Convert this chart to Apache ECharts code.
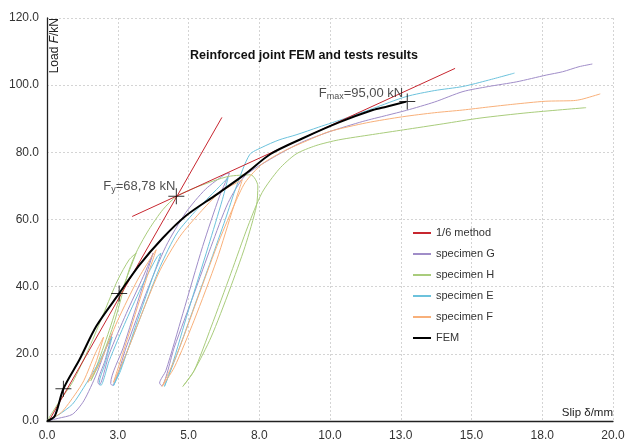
<!DOCTYPE html>
<html><head><meta charset="utf-8">
<script src="https://cdn.jsdelivr.net/npm/echarts@6/dist/echarts.min.js"></script>
<style>html,body{margin:0;padding:0;background:#fff}#c{width:630px;height:448px}</style>
</head><body><div id="c"></div>
<script>
const xTickLabels = ['0.0','3.0','5.0','8.0','10.0','13.0','15.0','18.0','20.0'];
const legendNames = ['1/6 method','specimen G','specimen H','specimen E','specimen F','FEM'];

const methodLineA = [[0.1,0.5],[6.18,90.4]];
const methodLineB = [[3.01,60.9],[14.42,105.0]];

const specimenG = [[0,0],[0.4,0.8],[0.9,2],[1.3,6],[1.75,14],[2.1,22],[2.3,26],[2.05,18],[1.8,11.5],[1.85,10.8],[2.2,20],[2.8,32],[3.4,43],[3.75,50],[3.3,38],[2.7,22],[2.25,11.2],[2.3,10.6],[2.8,22],[3.5,38],[4.2,52],[4.9,62],[5.6,69],[6.3,73.5],[6.45,73.8],[6.1,67],[5.5,52],[4.8,32],[4.2,15],[3.98,11.3],[4.05,10.5],[4.5,22],[5.2,38],[5.8,52],[6.4,65],[7.0,73],[8.0,78.5],[9.0,83],[10.0,86.2],[11.16,89.2],[12.0,91],[12.7,92.5],[13.7,95],[14.7,98.1],[15.6,99.6],[16.6,101],[17.64,103],[18.22,104],[18.8,105.5],[19.27,106.3]];

const specimenH = [[0,0],[0.45,6],[0.9,11.5],[1.5,22],[2.0,32],[2.5,42],[2.9,48],[3.15,50],[2.7,40],[2.2,27],[1.7,15],[1.55,12],[1.9,18],[2.4,30],[2.9,45],[3.2,51],[3.6,57],[4.1,63],[4.6,67],[5.4,70],[6.4,72.8],[7.2,73.3],[7.45,70],[7.4,64],[7.0,52],[6.45,39],[5.8,25],[5.2,15],[4.8,10.3],[5.2,15],[5.8,28],[6.5,44],[7.1,58],[7.6,68],[8.2,75],[8.8,79.5],[9.5,82],[10.3,83.7],[11.5,85.3],[12.6,86.7],[14.0,88.5],[15.3,90.2],[17.0,91.8],[19.05,93.3]];

const specimenE = [[0,0],[0.4,1.8],[0.9,5],[1.3,10],[1.8,17],[2.1,22],[2.3,25],[2.05,17],[1.85,11.5],[1.9,10.6],[2.2,18],[2.8,30],[3.4,41],[3.9,49],[4.03,50],[3.7,42],[3.2,30],[2.6,15],[2.35,10.5],[2.8,20],[3.4,33],[4.0,46],[4.6,56],[5.3,63],[6.0,69],[6.4,72.5],[6.2,66],[5.7,52],[5.0,33],[4.4,16],[4.15,10.3],[4.6,20],[5.2,34],[5.8,48],[6.3,60],[6.7,70],[7.16,79.3],[7.6,81.5],[8.2,83.7],[8.8,85.2],[9.6,87.5],[10.57,90.2],[11.5,93],[12.69,96.6],[13.7,98.4],[14.69,99.6],[15.6,101.5],[16.52,103.6]];

const specimenF = [[0,0],[0.5,2.5],[1.0,8],[1.3,12],[1.7,20],[2.0,25],[1.75,18],[1.45,11.5],[1.9,18],[2.5,30],[3.2,42],[3.7,49],[3.86,51],[3.5,42],[2.9,26],[2.35,11.5],[2.8,20],[3.4,33],[4.0,45],[4.7,55],[5.4,62],[6.1,68],[6.9,71.8],[6.6,64],[6.0,48],[5.2,30],[4.5,16],[4.07,10.3],[4.6,20],[5.3,36],[6.0,52],[6.6,64],[7.0,71],[7.6,76.5],[8.4,80.5],[9.2,83.5],[9.98,86.2],[11.3,88.8],[12.57,90.6],[13.7,91.8],[14.69,92.6],[15.6,93.5],[16.46,94.3],[17.6,95.2],[18.6,95.4],[18.9,95.8],[19.55,97.4]];

const femCurve = [[0,0],[0.27,1.4],[0.58,9.6],[1.15,18.3],[1.74,28.2],[2.55,38.0],[3.27,46.5],[4.09,54.5],[4.92,61.2],[6.0,67.5],[7.0,73.5],[7.9,79.5],[9.04,84.2],[10.34,89.0],[11.51,92.6],[11.99,93.6],[12.7,95.1]];

const crossPoints = [[0.58,9.6],[2.55,38.0],[4.57,66.9],[12.73,95.1]];

const FONT = 'Liberation Sans';
const chart = echarts.init(document.getElementById('c'));
const crossSym = 'path://M0,7.5h16v1h-16zM7.5,0h1v16h-1z';
function lineS(name, data, color, width, z, smooth) {
  return {type:'line', name, data, showSymbol:false, symbol:'none', smooth:smooth||false,
    lineStyle:{color, width}, itemStyle:{color}, z, animation:false, silent:true};
}
chart.setOption({
  animation:false,
  textStyle:{fontFamily:FONT},
  grid:{left:47, right:17, top:18, bottom:27, containLabel:false},
  title:{text:'Reinforced joint FEM and tests results', left:299, top:44, textAlign:'center',
    textStyle:{fontFamily:FONT, fontSize:12.5, fontWeight:'bold', color:'#111'}},
  legend:{data:legendNames, orient:'vertical', left:413, top:226, padding:0, itemWidth:18, itemHeight:2, itemGap:7,
    icon:'rect', textStyle:{fontFamily:FONT, fontSize:11, color:'#333', lineHeight:14}},
  xAxis:{type:'value', min:0, max:20, interval:2.5,
    axisLine:{show:true, onZero:false, lineStyle:{color:'#222', width:1.3}},
    axisTick:{show:false},
    axisLabel:{fontFamily:FONT, fontSize:12, color:'#333', margin:9,
      formatter:(v)=>xTickLabels[Math.round(v/2.5)]},
    splitLine:{show:true, lineStyle:{color:'#d4d4d4', type:[2,2]}}},
  yAxis:{type:'value', min:0, max:120, interval:20,
    axisLine:{show:true, lineStyle:{color:'#222', width:1.3}},
    axisTick:{show:false},
    axisLabel:{fontFamily:FONT, fontSize:12, color:'#333', margin:8, formatter:(v)=>v.toFixed(1)},
    splitLine:{show:true, lineStyle:{color:'#d4d4d4', type:[2,2]}}},
  graphic:[
    {type:'text', x:55, y:18, rotation:Math.PI/2, z:100,
      style:{text:'{a|Load }{b|F}{a|/kN}', align:'right', verticalAlign:'middle',
        rich:{a:{fontFamily:FONT,fontSize:12,fill:'#222'}, b:{fontFamily:FONT,fontSize:12,fontStyle:'italic',fill:'#222'}}}},
    {type:'text', x:613, y:413, z:100,
      style:{text:'Slip δ/mm', align:'right', verticalAlign:'middle', fontFamily:FONT, fontSize:11.5, fill:'#222'}}
  ],
  series:[
    lineS('specimen G', specimenG, '#A08DC8', 1, 2, 0.25),
    lineS('specimen H', specimenH, '#A9CC7C', 1, 2, 0.25),
    lineS('specimen E', specimenE, '#6CC2DC', 1, 2, 0.25),
    lineS('specimen F', specimenF, '#F8B07A', 1, 2, 0.25),
    lineS('1/6 method', methodLineA, '#C7262F', 1, 3),
    lineS('1/6 method', methodLineB, '#C7262F', 1, 3),
    lineS('FEM', femCurve, '#000', 2, 4, 0.3),
    {type:'scatter', name:'cross', data:crossPoints.map((p,i)=>{
        const o = {value:p};
        if (i===2) o.label = {show:true, position:'left', offset:[12,-10],
          formatter:'{n|F}{s|y}{n|=68,78 kN}'};
        if (i===3) o.label = {show:true, position:'left', offset:[9,-8],
          formatter:'{n|F}{s|max}{n|=95,00 kN}'};
        return o;
      }),
      symbol:crossSym, symbolSize:[16,16], itemStyle:{color:'#000'}, z:5, silent:true,
      label:{show:false, rich:{n:{fontFamily:FONT,fontSize:13,color:'#222'}, s:{fontFamily:FONT,fontSize:9,color:'#222',padding:[6,0,0,0]}}}}
  ]
});
</script></body></html>
